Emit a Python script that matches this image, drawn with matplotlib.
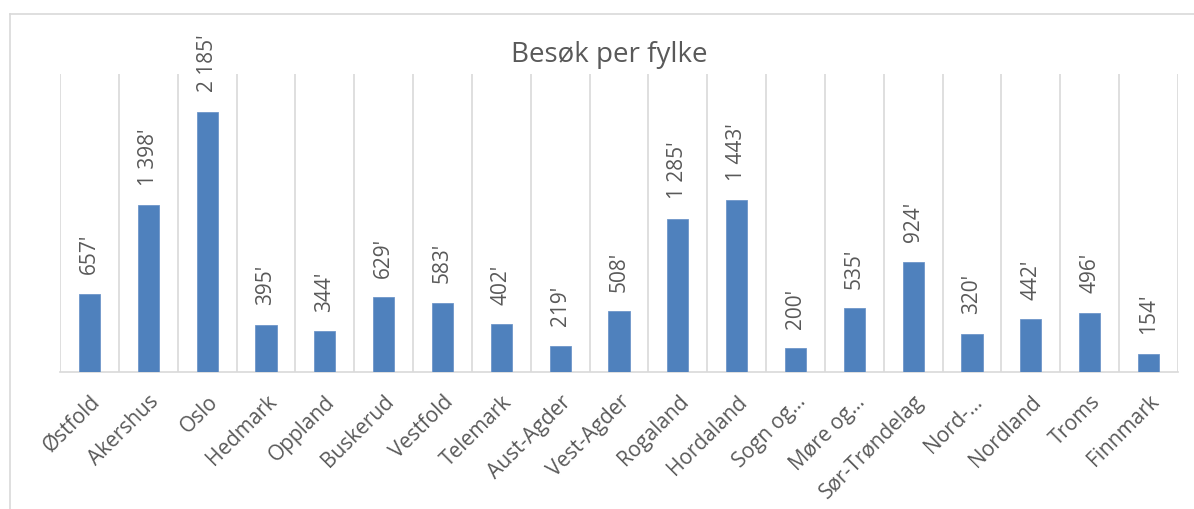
import matplotlib
matplotlib.use("Agg")
import matplotlib.pyplot as plt
from matplotlib.lines import Line2D

categories = ["Østfold", "Akershus", "Oslo", "Hedmark", "Oppland", "Buskerud",
              "Vestfold", "Telemark", "Aust-Agder", "Vest-Agder", "Rogaland",
              "Hordaland", "Sogn og…", "Møre og…", "Sør-Trøndelag", "Nord-…",
              "Nordland", "Troms", "Finnmark"]
values = [657, 1398, 2185, 395, 344, 629, 583, 402, 219, 508, 1285, 1443,
          200, 535, 924, 320, 442, 496, 154]
value_labels = ["657'", "1 398'", "2 185'", "395'", "344'", "629'", "583'",
                "402'", "219'", "508'", "1 285'", "1 443'", "200'", "535'",
                "924'", "320'", "442'", "496'", "154'"]
title = "Besøk per fylke"

plt.rcParams['font.family'] = ['Open Sans', 'DejaVu Sans']
TXT = "#595959"
GRID = "#d9d9d9"
BAR = "#4f81bd"

W, H = 1194, 509
fig = plt.figure(figsize=(W / 100, H / 100), dpi=100)

# outer chart frame
fig.add_artist(Line2D([10 / W, 1.0], [1 - 14 / H, 1 - 14 / H], color=GRID, lw=1.2,
                      transform=fig.transFigure))
fig.add_artist(Line2D([10 / W, 10 / W], [0, 1 - 14 / H], color=GRID, lw=1.2,
                      transform=fig.transFigure))

ax = fig.add_axes([60 / W, (H - 372) / H, (1178 - 60) / W, (372 - 74) / H])
n = len(categories)
x = list(range(n))
ax.bar(x, values, width=0.36, color=BAR, edgecolor="#6f96c9", linewidth=0.6, zorder=3)
ax.set_xlim(-0.5, n - 0.5)
ax.set_ylim(0, 2500)

for b in range(n + 1):
    ax.axvline(b - 0.5, color=GRID, lw=1.2, zorder=1)

for s in ["top", "right", "left"]:
    ax.spines[s].set_visible(False)
ax.spines["bottom"].set_color(GRID)
ax.spines["bottom"].set_linewidth(1.2)
ax.set_yticks([])
ax.set_xticks(x)
ax.set_xticklabels(categories, rotation=45, ha="right", va="top",
                   rotation_mode="anchor", fontsize=15, color=TXT)
ax.tick_params(axis="x", length=0, pad=14)

for xi, v, lab in zip(x, values, value_labels):
    ax.annotate(lab, (xi, v), xytext=(0, 14), textcoords="offset points",
                rotation=90, ha="center", va="bottom", fontsize=15, color=TXT,
                annotation_clip=False)

fig.text(609 / W, 1 - 55 / H, title, ha="center", va="center", fontsize=20, color=TXT)

fig.savefig("out.png", dpi=100)
